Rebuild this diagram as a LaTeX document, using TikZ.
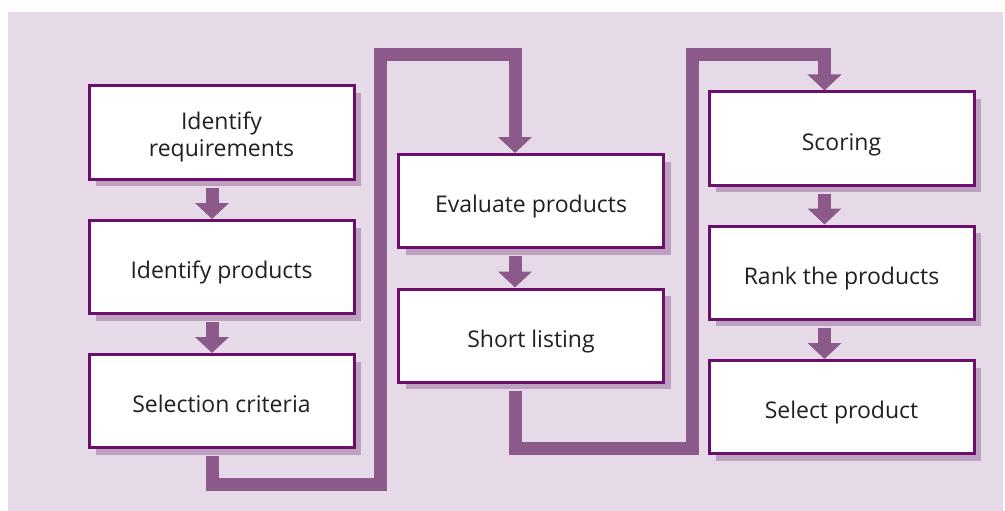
\documentclass[tikz,border=0pt]{standalone}
\usepackage{fontspec}
\setmainfont{Open Sans}
\usetikzlibrary{arrows.meta,shadows}
\definecolor{bgc}{HTML}{E6DAE9}
\definecolor{linec}{HTML}{8B5A8B}
\definecolor{borderc}{HTML}{6C0F6C}
\definecolor{shadowc}{HTML}{BEA0C1}
\definecolor{textc}{HTML}{231F20}
\tikzset{
  stepbox/.style={draw=borderc, line width=3pt, fill=white, minimum width=265pt, minimum height=93pt,
    inner sep=0pt, align=center, text=textc, font=\fontsize{23}{27}\selectfont, text depth=0pt,
    drop shadow={shadow xshift=7pt, shadow yshift=-7pt, fill=shadowc, opacity=1, draw=none}},
  oneline/.style={stepbox, text height=23pt},
  flow/.style={draw=linec, line width=13pt, line join=miter,
    -{Triangle[width=33pt,length=16pt]}},
  link/.style={draw=linec, line width=13pt, line join=miter, line cap=butt,
    -{Triangle[width=33pt,length=16pt]}}
}
\begin{document}
\begin{tikzpicture}[x=1pt,y=-1pt]
\useasboundingbox (0,0) rectangle (1005,511);
\fill[bgc] (8,12) rectangle (1003,511);
% column 1
\node[stepbox] (req) at (221.5,132.5) {\raisebox{-3pt}{\shortstack{Identify\\[1pt]requirements}}};
\node[oneline] (prod) at (221.5,267) {Identify products};
\node[oneline] (crit) at (221.5,401) {Selection criteria};
% column 2
\node[oneline] (eval) at (531,201) {Evaluate products};
\node[oneline] (short) at (531,335.5) {Short listing};
% column 3
\node[oneline] (score) at (841.5,138.5) {Scoring};
\node[oneline] (rank) at (841.5,272.5) {Rank the products};
\node[oneline] (sel) at (841.5,407) {Select product};
% x positions of the arrows
\coordinate (xa) at (212,0);
\coordinate (xb) at (515,0);
\coordinate (xc) at (824.5,0);
% straight arrows
\draw[flow] ([yshift=-7pt]req.south -| xa) -- (prod.north -| xa);
\draw[flow] ([yshift=-7pt]prod.south -| xa) -- (crit.north -| xa);
\draw[flow] ([yshift=-7pt]eval.south -| xb) -- (short.north -| xb);
\draw[flow] ([yshift=-7pt]score.south -| xc) -- (rank.north -| xc);
\draw[flow] ([yshift=-7pt]rank.south -| xc) -- (sel.north -| xc);
% long links
\coordinate (c1a) at (212,484);
\coordinate (c1b) at (380,484);
\coordinate (c1c) at (380,54.5);
\coordinate (c1d) at (515,54.5);
\draw[link] ([yshift=-7pt]crit.south -| xa) -- (c1a) -- (c1b) -- (c1c) -- (c1d) -- (eval.north -| xb);
\coordinate (c2a) at (515,448);
\coordinate (c2b) at (692,448);
\coordinate (c2c) at (692,54.5);
\coordinate (c2d) at (824.5,54.5);
\draw[link] ([yshift=-7pt]short.south -| xb) -- (c2a) -- (c2b) -- (c2c) -- (c2d) -- (score.north -| xc);
\end{tikzpicture}
\end{document}
